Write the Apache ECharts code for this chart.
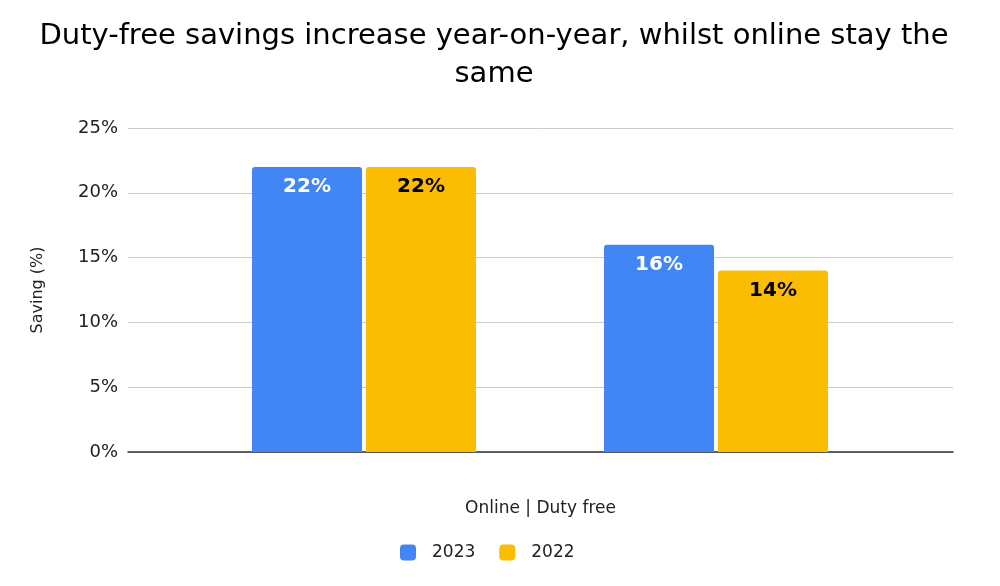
<!DOCTYPE html>
<html>
<head>
<meta charset="utf-8">
<script src="https://cdn.jsdelivr.net/npm/echarts@6/dist/echarts.min.js"></script>
<style>
  html, body { margin: 0; padding: 0; background: #fff; }
  #chart { width: 1000px; height: 586px; }
</style>
</head>
<body>
<div id="chart"></div>
<script>
var categories = ['Online', 'Duty free'];
var seriesNames = ['2023', '2022'];
var values2023 = [22, 16];
var values2022 = [22, 14];
var yTicks = { min: 0, max: 25, interval: 5 };

function initChart() {
	var myChart = echarts.init(document.getElementById('chart'));
	var font = 'DejaVu Sans, Verdana, sans-serif';

	myChart.setOption({
		textStyle : {
			fontFamily : font
		},
		title : {
			text : 'Duty-free savings increase year-on-year, whilst online stay the\nsame',
			left : 489,
			top : 12,
			textAlign : 'center',
			textStyle : {
				fontFamily : font,
				fontSize : 29,
				fontWeight : 'normal',
				color : '#000',
				lineHeight : 38
			}
		},
		legend : {
			bottom : 20,
			left : 395,
			itemWidth : 16,
			itemHeight : 16,
			itemGap : 24,
			icon : 'roundRect',
			textStyle : {
				fontFamily : font,
				fontSize : 17,
				color : '#222',
				padding : [ 0, 0, 0, 11 ]
			},
			data : seriesNames
		},
		grid : [ {
			left : 128,
			right : 47,
			top : 128,
			bottom : 134
		}, {
			left : 188,
			right : 108,
			top : 128,
			bottom : 134
		} ],
		xAxis : [ {
			type : 'category',
			gridIndex : 0,
			data : categories,
			name : 'Online | Duty free',
			nameLocation : 'middle',
			nameGap : 48,
			nameTextStyle : {
				fontFamily : font,
				fontSize : 17,
				color : '#222'
			},
			axisLine : {
				lineStyle : {
					color : '#333',
					width : 1.5
				}
			},
			axisTick : { show : false },
			axisLabel : { show : false }
		}, {
			type : 'category',
			gridIndex : 1,
			data : categories,
			axisLine : { show : false },
			axisTick : { show : false },
			axisLabel : { show : false }
		} ],
		yAxis : [ {
			type : 'value',
			gridIndex : 0,
			min : yTicks.min,
			max : yTicks.max,
			interval : yTicks.interval,
			name : 'Saving (%)',
			nameLocation : 'middle',
			nameGap : 82,
			nameTextStyle : {
				fontFamily : font,
				fontSize : 16,
				color : '#222'
			},
			axisLabel : {
				formatter : '{value}%',
				fontFamily : font,
				fontSize : 18,
				color : '#222',
				margin : 10
			},
			splitLine : {
				lineStyle : {
					color : '#cccccc',
					width : 1
				}
			}
		}, {
			type : 'value',
			gridIndex : 1,
			min : yTicks.min,
			max : yTicks.max,
			interval : yTicks.interval,
			show : false,
			splitLine : { show : false }
		} ],
		series : [ {
			name : seriesNames[0],
			type : 'bar',
			xAxisIndex : 1,
			yAxisIndex : 1,
			data : values2023,
			barWidth : 110,
			barGap : '3.6%',
			itemStyle : {
				color : '#4285F4',
				borderRadius : [ 3, 3, 0, 0 ]
			},
			label : {
				show : true,
				position : 'insideTop',
				distance : 10,
				formatter : '{c}%',
				fontFamily : font,
				fontSize : 20,
				fontWeight : 'bold',
				color : '#fff'
			}
		}, {
			name : seriesNames[1],
			type : 'bar',
			xAxisIndex : 1,
			yAxisIndex : 1,
			data : values2022,
			barWidth : 110,
			barGap : '3.6%',
			itemStyle : {
				color : '#FBBC04',
				borderRadius : [ 3, 3, 0, 0 ]
			},
			label : {
				show : true,
				position : 'insideTop',
				distance : 10,
				formatter : '{c}%',
				fontFamily : font,
				fontSize : 20,
				fontWeight : 'bold',
				color : '#000'
			}
		} ]
	});
}

initChart();
</script>
</body>
</html>
